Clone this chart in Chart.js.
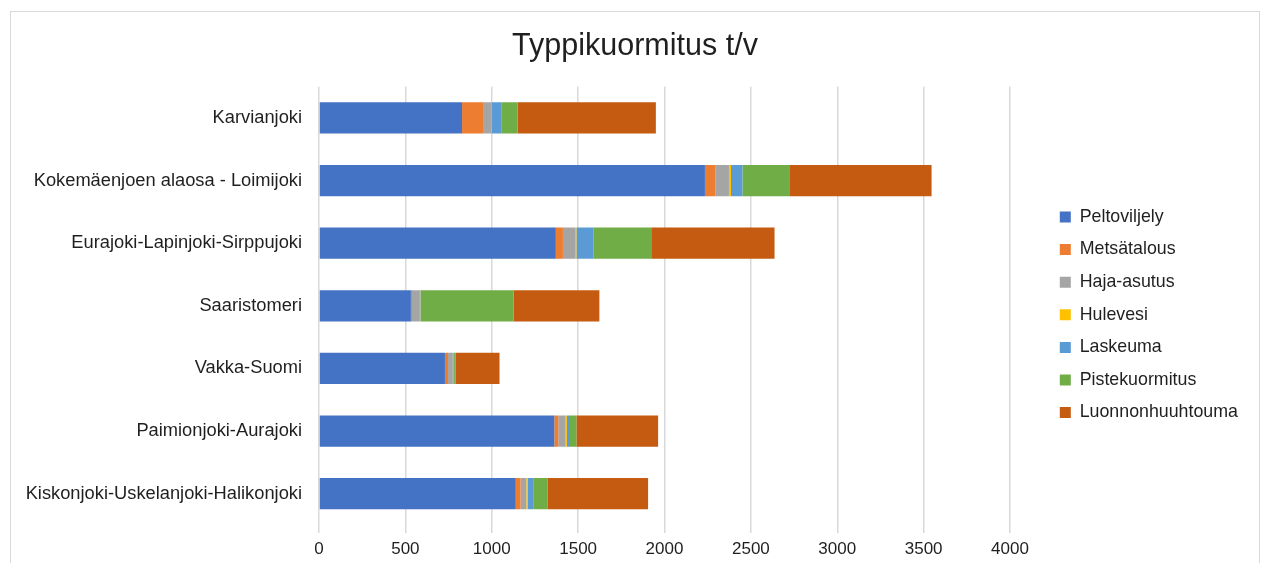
<!DOCTYPE html>
<html>
<head>
<meta charset="utf-8">
<script src="https://cdn.jsdelivr.net/npm/chart.js@4/dist/chart.umd.min.js"></script>
<style>
  html, body { margin: 0; padding: 0; background: #fff; }
  body { width: 1268px; height: 563px; position: relative; overflow: hidden; }
  #frame {
    position: absolute; left: 10px; top: 11px; width: 1250px; height: 560px;
    box-sizing: border-box; border: 1px solid #d9d9d9; border-bottom: none;
  }
  #wrap { position: absolute; left: 0; top: 0; width: 1248px; height: 551px; }
</style>
</head>
<body>
<div id="frame"><div id="wrap"><canvas id="chart"></canvas></div></div>
<script>
// alueet ylhäältä alas
const areas = [
  "Karvianjoki",
  "Kokemäenjoen alaosa - Loimijoki",
  "Eurajoki-Lapinjoki-Sirppujoki",
  "Saaristomeri",
  "Vakka-Suomi",
  "Paimionjoki-Aurajoki",
  "Kiskonjoki-Uskelanjoki-Halikonjoki"
];

// kuormitus t/v, luettu kuvasta
const peltoviljely     = [828, 2234, 1371, 532, 729, 1362, 1139];
const metsatalous      = [126,   62,   41,   6,  18,   23,   28];
const hajaAsutus       = [ 42,   77,   70,  46,  28,   43,   33];
const hulevesi         = [  2,   12,    8,   2,   2,    7,    7];
const laskeuma         = [ 60,   66,   98,   3,   5,   18,   33];
const pistekuormitus   = [ 91,  271,  335, 537,  10,   37,   82];
const luonnonhuuhtouma = [801,  824,  714, 497, 253,  473,  583];

const xTicks = [0, 500, 1000, 1500, 2000, 2500, 3000, 3500, 4000];

const FONT = "'Liberation Sans', Arial, sans-serif";
const TXT = "#1f1f1f";

function ds(label, data, color) {
  return {
    label, data,
    backgroundColor: color,
    borderWidth: 0,
    barPercentage: 0.5,
    categoryPercentage: 1.0
  };
}

// legenda oikealle, kiinteä leveys ja siirto kuten alkuperäisessä
const legendPlace = {
  id: "legendPlace",
  beforeInit(chart) {
    const orig = chart.legend.fit;
    chart.legend.fit = function () {
      orig.call(this);
      this.width = 249;
    };
  },
  afterLayout(chart) {
    const lg = chart.legend;
    lg.left += 35; lg.right += 35;
    lg.top += 9; lg.bottom += 9;
  }
};

new Chart(document.getElementById("chart"), {
  type: "bar",
  data: {
    labels: areas,
    datasets: [
      ds("Peltoviljely", peltoviljely, "#4472C4"),
      ds("Metsätalous", metsatalous, "#ED7D31"),
      ds("Haja-asutus", hajaAsutus, "#A5A5A5"),
      ds("Hulevesi", hulevesi, "#FFC000"),
      ds("Laskeuma", laskeuma, "#5B9BD5"),
      ds("Pistekuormitus", pistekuormitus, "#70AD47"),
      ds("Luonnonhuuhtouma", luonnonhuuhtouma, "#C55A11")
    ]
  },
  options: {
    indexAxis: "y",
    responsive: true,
    maintainAspectRatio: false,
    animation: false,
    layout: { padding: 0 },
    plugins: {
      title: {
        display: true,
        text: "Typpikuormitus t/v",
        color: TXT,
        font: { family: FONT, size: 30.5, weight: "normal" },
        padding: { top: 16, bottom: 22 }
      },
      legend: {
        position: "right",
        align: "center",
        fullSize: false,
        labels: {
          color: TXT,
          font: { family: FONT, size: 17.8 },
          boxWidth: 11,
          boxHeight: 11,
          padding: 14.8
        }
      },
      tooltip: { enabled: false }
    },
    scales: {
      x: {
        stacked: true,
        min: 0, max: 4000,
        afterBuildTicks(scale) { scale.ticks = xTicks.map(v => ({ value: v })); },
        afterFit(scale) { scale.height = 38; },
        grid: { color: "#d9d9d9", lineWidth: 1.5, drawTicks: true, tickLength: 8 },
        border: { display: false },
        ticks: {
          color: TXT,
          font: { family: FONT, size: 17 },
          padding: 6,
          callback: v => String(v)
        }
      },
      y: {
        stacked: true,
        afterFit(scale) { scale.width = 308; },
        grid: { display: false },
        border: { display: false },
        ticks: {
          color: TXT,
          font: { family: FONT, size: 18.3 },
          padding: 9
        }
      }
    }
  },
  plugins: [legendPlace]
});
</script>
</body>
</html>
